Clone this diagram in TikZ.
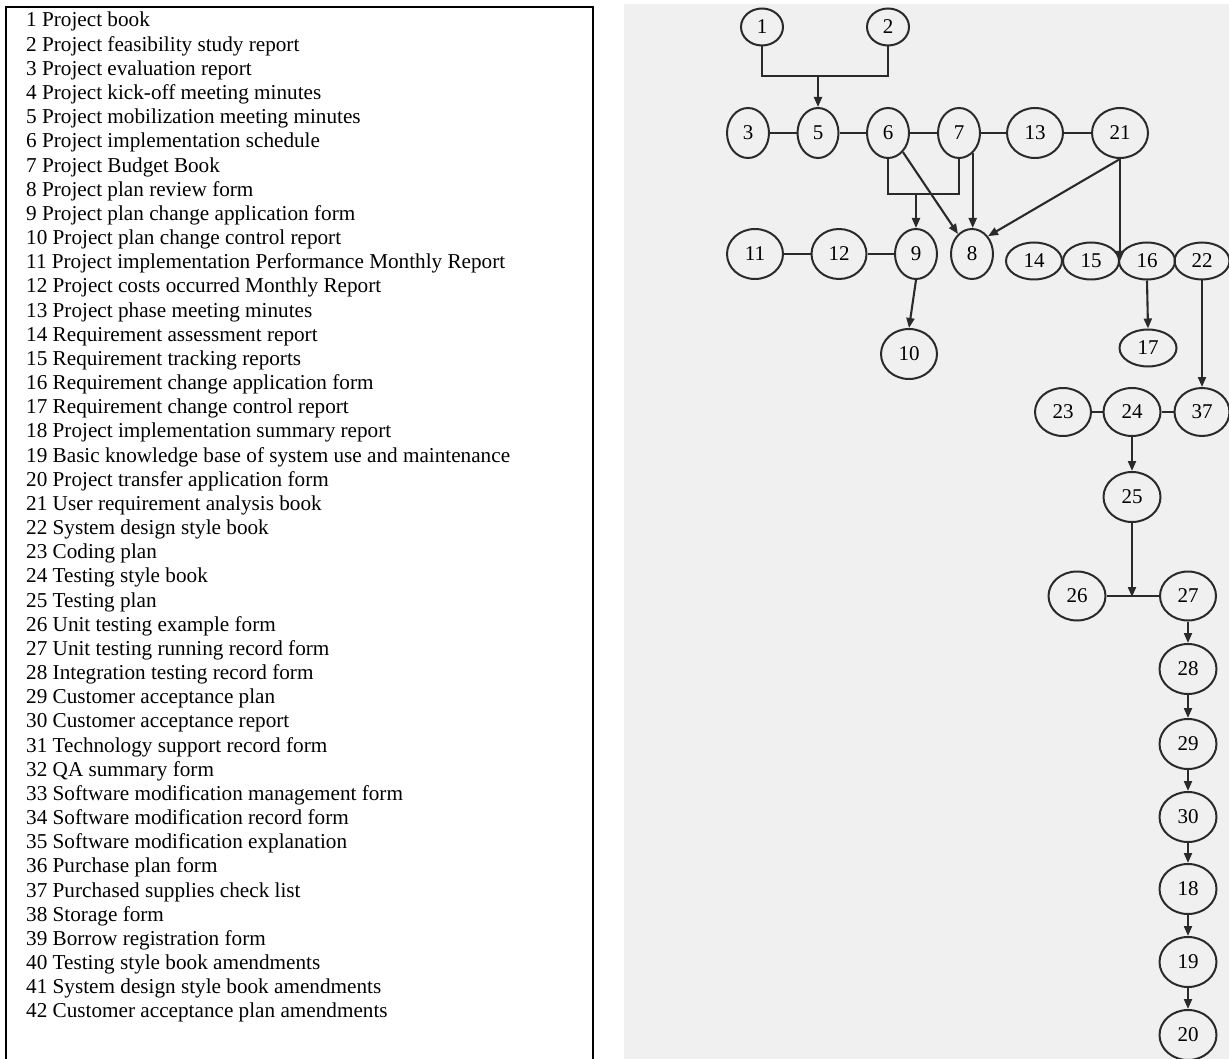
\documentclass[tikz,border=0pt]{standalone}
\usepackage{fontspec}
\setmainfont{Liberation Serif}
\usetikzlibrary{arrows.meta,shapes.geometric}
\definecolor{panel}{HTML}{F0F0F0}
\definecolor{ink}{HTML}{2A2A2A}
\tikzset{
  doc/.style={ellipse,draw=ink,line width=2pt,inner sep=0pt,minimum width=#1,
    font=\fontsize{21}{23}\selectfont,text=black},
  doc/.default=42pt,
  listitem/.style={anchor=base west,inner sep=0pt,font=\fontsize{21.2}{24}\selectfont},
  link/.style={draw=ink,line width=2.1pt},
  arr/.style={link,-{Triangle[length=10pt,width=8pt]}}
}
\begin{document}
\begin{tikzpicture}[x=1pt,y=-1pt]
\useasboundingbox (0,0) rectangle (1229,1059);
\fill[panel] (624,4) rectangle (1229,1059);
\draw[line width=2.4pt] (6,1062) -- (6,7) -- (593,7) -- (593,1062);
% list
\def\ly#1{27+(#1-1)*24.17}
\node[listitem] (t1) at (26,{\ly{1}}) {1 Project book};
\node[listitem] (t2) at (26,{\ly{2}}) {2 Project feasibility study report};
\node[listitem] (t3) at (26,{\ly{3}}) {3 Project evaluation report};
\node[listitem] (t4) at (26,{\ly{4}}) {4 Project kick-off meeting minutes};
\node[listitem] (t5) at (26,{\ly{5}}) {5 Project mobilization meeting minutes};
\node[listitem] (t6) at (26,{\ly{6}}) {6 Project implementation schedule};
\node[listitem] (t7) at (26,{\ly{7}}) {7 Project Budget Book};
\node[listitem] (t8) at (26,{\ly{8}}) {8 Project plan review form};
\node[listitem] (t9) at (26,{\ly{9}}) {9 Project plan change application form};
\node[listitem] (t10) at (26,{\ly{10}}) {10 Project plan change control report};
\node[listitem] (t11) at (26,{\ly{11}}) {11 Project implementation Performance Monthly Report};
\node[listitem] (t12) at (26,{\ly{12}}) {12 Project costs occurred Monthly Report};
\node[listitem] (t13) at (26,{\ly{13}}) {13 Project phase meeting minutes};
\node[listitem] (t14) at (26,{\ly{14}}) {14 Requirement assessment report};
\node[listitem] (t15) at (26,{\ly{15}}) {15 Requirement tracking reports};
\node[listitem] (t16) at (26,{\ly{16}}) {16 Requirement change application form};
\node[listitem] (t17) at (26,{\ly{17}}) {17 Requirement change control report};
\node[listitem] (t18) at (26,{\ly{18}}) {18 Project implementation summary report};
\node[listitem] (t19) at (26,{\ly{19}}) {19 Basic knowledge base of system use and maintenance};
\node[listitem] (t20) at (26,{\ly{20}}) {20 Project transfer application form};
\node[listitem] (t21) at (26,{\ly{21}}) {21 User requirement analysis book};
\node[listitem] (t22) at (26,{\ly{22}}) {22 System design style book};
\node[listitem] (t23) at (26,{\ly{23}}) {23 Coding plan};
\node[listitem] (t24) at (26,{\ly{24}}) {24 Testing style book};
\node[listitem] (t25) at (26,{\ly{25}}) {25 Testing plan};
\node[listitem] (t26) at (26,{\ly{26}}) {26 Unit testing example form};
\node[listitem] (t27) at (26,{\ly{27}}) {27 Unit testing running record form};
\node[listitem] (t28) at (26,{\ly{28}}) {28 Integration testing record form};
\node[listitem] (t29) at (26,{\ly{29}}) {29 Customer acceptance plan};
\node[listitem] (t30) at (26,{\ly{30}}) {30 Customer acceptance report};
\node[listitem] (t31) at (26,{\ly{31}}) {31 Technology support record form};
\node[listitem] (t32) at (26,{\ly{32}}) {32 QA summary form};
\node[listitem] (t33) at (26,{\ly{33}}) {33 Software modification management form};
\node[listitem] (t34) at (26,{\ly{34}}) {34 Software modification record form};
\node[listitem] (t35) at (26,{\ly{35}}) {35 Software modification explanation};
\node[listitem] (t36) at (26,{\ly{36}}) {36 Purchase plan form};
\node[listitem] (t37) at (26,{\ly{37}}) {37 Purchased supplies check list};
\node[listitem] (t38) at (26,{\ly{38}}) {38 Storage form};
\node[listitem] (t39) at (26,{\ly{39}}) {39 Borrow registration form};
\node[listitem] (t40) at (26,{\ly{40}}) {40 Testing style book amendments};
\node[listitem] (t41) at (26,{\ly{41}}) {41 System design style book amendments};
\node[listitem] (t42) at (26,{\ly{42}}) {42 Customer acceptance plan amendments};
% graph nodes
\node[doc=42pt,minimum height=37pt] (n1) at (762,27) {1};
\node[doc=42pt,minimum height=37pt] (n2) at (888,27) {2};
\node[doc=42pt,minimum height=50pt] (n3) at (748,133) {3};
\node[doc=41pt,minimum height=50pt] (n5) at (818,133) {5};
\node[doc=42pt,minimum height=50pt] (n6) at (888,133) {6};
\node[doc=42pt,minimum height=50pt] (n7) at (959,133) {7};
\node[doc=56pt,minimum height=50pt] (n13) at (1035,133) {13};
\node[doc=56pt,minimum height=50pt] (n21) at (1120,133) {21};
\node[doc=56pt,minimum height=50pt] (n11) at (755,254) {11};
\node[doc=55pt,minimum height=50pt] (n12) at (839,254) {12};
\node[doc=42pt,minimum height=50pt] (n9) at (916,254) {9};
\node[doc=42pt,minimum height=50pt] (n8) at (972,254) {8};
\node[doc=56pt,minimum height=37pt] (n14) at (1034,261) {14};
\node[doc=56pt,minimum height=37pt] (n15) at (1091,261) {15};
\node[doc=56pt,minimum height=37pt] (n16) at (1147,261) {16};
\node[doc=55pt,minimum height=37pt] (n22) at (1202,261) {22};
\node[doc=56pt,minimum height=50pt] (n10) at (909,354) {10};
\node[doc=57pt,minimum height=37pt] (n17) at (1148,348) {17};
\node[doc=56pt,minimum height=48pt] (n23) at (1063,412) {23};
\node[doc=57pt,minimum height=48pt] (n24) at (1132,412) {24};
\node[doc=55pt,minimum height=48pt] (n37) at (1202,412) {37};
\node[doc=57pt,minimum height=50pt] (n25) at (1132,497) {25};
\node[doc=57pt,minimum height=49pt] (n26) at (1077,596) {26};
\node[doc=56pt,minimum height=49pt] (n27) at (1188,596) {27};
\node[doc=57pt,minimum height=50pt] (n28) at (1188,669) {28};
\node[doc=57pt,minimum height=50pt] (n29) at (1188,744) {29};
\node[doc=57pt,minimum height=50pt] (n30) at (1188,817) {30};
\node[doc=57pt,minimum height=50pt] (n18) at (1188,889) {18};
\node[doc=57pt,minimum height=50pt] (n19) at (1188,962) {19};
\node[doc=57pt,minimum height=50pt] (n20) at (1188,1035) {20};
% junctions
\coordinate (j12) at (818,76);
\coordinate (j67) at (916,194);
\coordinate (j2627) at (1132,597);
% connectors
\draw[link] (n1.south) |- (j12) -| (n2.south);
\draw[arr] (j12) -- (n5.north);
\draw[link] (n3) -- (n5);
\draw[link] (n5) -- (n6);
\draw[link] (n6) -- (n7);
\draw[link] (n7) -- (n13);
\draw[link] (n13) -- (n21);
\draw[link] (n6.south) |- (j67) -| (n7.south);
\draw[arr] (j67) -- (n9.north);
\draw[arr] (n6.-52) -- (n8.125);
\draw[arr] (n7.-56) -- (n7.-56 |- n8.north);
\draw[arr] (n21.south) -- (n8.48);
\draw[arr] (n21.south) -- (n21.south |- n16.west);
\draw[link] (n11) -- (n12);
\draw[link] (n12) -- (n9);
\draw[arr] (n9.south) -- (n10.north);
\draw[arr] (n16.south) -- (n17.north);
\draw[arr] (n22.south) -- (n37.north);
\draw[link] (n23) -- (n24);
\draw[link] (n24) -- (n37);
\draw[arr] (n24.south) -- (n25.north);
\draw[link] (n26) -- (n27);
\draw[arr] (n25.south) -- (j2627);
\draw[arr] (n27.south) -- (n28.north);
\draw[arr] (n28.south) -- (n29.north);
\draw[arr] (n29.south) -- (n30.north);
\draw[arr] (n30.south) -- (n18.north);
\draw[arr] (n18.south) -- (n19.north);
\draw[arr] (n19.south) -- (n20.north);
\end{tikzpicture}
\end{document}
